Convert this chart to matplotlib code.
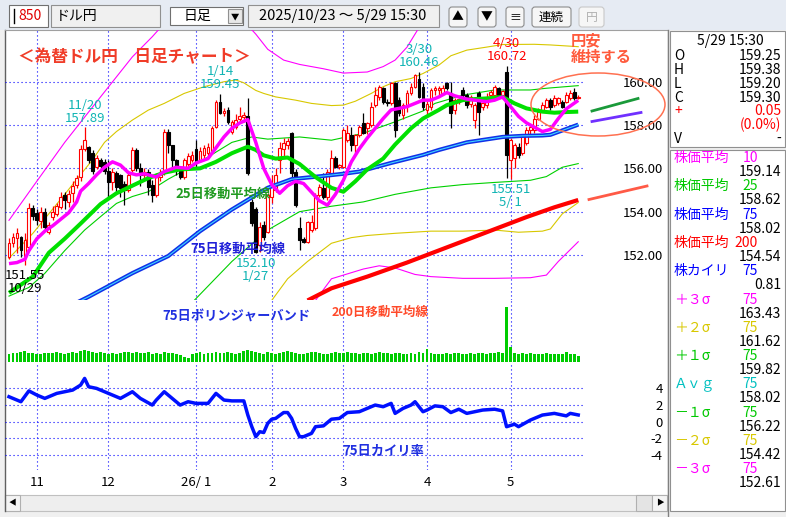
import numpy as np
import pandas as pd
import matplotlib
matplotlib.use("Agg")
import matplotlib.pyplot as plt
from matplotlib.patches import Rectangle, Ellipse, FancyBboxPatch

plt.rcParams["font.family"] = ["Noto Sans CJK JP", "DejaVu Sans"]

# ---------------- data ----------------
# daily bars, Japanese market holidays are skipped by the chart tool
jp_holidays = ["2025-11-03", "2025-11-24", "2025-12-31", "2026-01-01", "2026-01-02",
               "2026-01-12", "2026-02-11", "2026-02-23", "2026-03-20", "2026-04-29",
               "2026-05-04", "2026-05-05", "2026-05-06"]
dates = pd.bdate_range("2025-10-23", "2026-05-29")
dates = dates[~dates.isin(pd.to_datetime(jp_holidays))]

opens = [151.92, 152.54, 152.80, 152.85, 151.92, 152.38, 154.15, 153.95, 153.55, 154.00,
         153.05, 153.75, 153.90, 154.20, 154.75, 154.45, 154.85, 155.25, 155.60, 156.88,
         157.00, 156.70, 156.08, 156.40, 156.30, 155.90, 155.38, 155.80, 155.70, 155.30,
         155.00, 155.92, 156.85, 156.00, 155.70, 155.85, 155.23, 154.77, 155.60, 155.77,
         157.70, 157.08, 156.38, 156.00, 155.62, 156.20, 156.40, 156.90, 156.40, 156.60,
         156.70, 156.77, 157.92, 159.08, 158.55, 158.70, 157.70, 157.92, 158.30, 158.35,
         158.40, 154.46, 154.10, 152.46, 153.38, 153.08, 154.70, 155.00, 156.38, 156.90,
         157.10, 157.62, 155.85, 153.23, 152.75, 152.62, 153.15, 153.23, 154.77, 155.10,
         154.70, 155.77, 156.46, 156.08, 156.08, 157.30, 157.55, 157.08, 157.55, 158.08,
         157.85, 158.00, 158.92, 159.30, 159.70, 159.08, 159.00, 159.92, 159.15, 158.46,
         158.92, 159.46, 159.77, 160.15, 159.77, 158.70, 158.85, 159.62, 159.60, 159.46,
         159.92, 159.46, 158.70, 159.05, 159.60, 159.38, 158.95, 158.23, 159.46, 158.85,
         158.92, 159.38, 159.38, 159.70, 159.38, 160.46, 156.38, 156.46, 157.00, 156.70,
         157.15, 157.77, 157.77, 158.30, 158.70, 158.85, 159.15, 158.92, 159.00, 159.08,
         159.08, 159.23, 159.54, 159.25]
highs = [152.77, 153.03, 153.23, 152.88, 153.00, 154.38, 154.30, 154.10, 154.20, 154.15,
         153.50, 154.25, 154.40, 154.90, 154.90, 155.00, 155.40, 155.70, 157.10, 157.89,
         157.05, 156.85, 156.60, 156.50, 156.45, 156.40, 156.00, 155.90, 155.75, 155.40,
         155.90, 157.00, 156.95, 156.25, 156.00, 155.95, 155.45, 155.80, 155.95, 157.80,
         157.80, 157.10, 156.45, 156.10, 156.50, 156.70, 156.80, 157.30, 157.00, 157.10,
         157.15, 157.95, 159.15, 159.45, 158.80, 158.85, 158.25, 158.50, 158.85, 158.60,
         159.23, 154.60, 154.20, 153.50, 153.55, 154.85, 155.70, 156.00, 157.20, 157.40,
         157.40, 157.70, 155.95, 153.77, 152.85, 153.55, 153.85, 154.85, 155.30, 155.77,
         155.95, 156.85, 156.55, 156.20, 157.85, 158.00, 157.92, 157.60, 158.00, 158.55,
         158.15, 159.05, 159.77, 159.85, 159.77, 159.20, 160.00, 160.00, 159.30, 159.00,
         159.60, 159.92, 160.38, 160.46, 159.92, 159.10, 159.70, 159.80, 159.80, 159.85,
         160.00, 160.00, 159.25, 159.30, 159.77, 159.46, 159.40, 159.00, 159.55, 159.00,
         159.50, 159.62, 159.85, 159.77, 159.62, 160.72, 157.40, 157.15, 157.15, 157.60,
         157.92, 158.00, 158.46, 158.77, 159.08, 159.23, 159.23, 159.38, 159.30, 159.15,
         159.54, 159.62, 159.70, 159.38]
lows = [151.80, 152.38, 152.08, 151.92, 151.55, 152.30, 153.60, 153.40, 153.25, 153.10,
        152.95, 153.60, 153.80, 154.10, 154.10, 154.20, 154.45, 155.10, 155.40, 156.80,
        156.25, 155.75, 155.95, 155.90, 155.75, 154.70, 155.00, 154.85, 154.70, 154.30,
        154.90, 155.85, 155.90, 155.20, 155.45, 154.77, 154.46, 154.70, 155.40, 155.70,
        156.70, 155.90, 155.70, 155.50, 155.50, 156.00, 156.30, 156.08, 156.30, 156.50,
        156.55, 156.70, 157.85, 158.50, 158.40, 158.05, 157.60, 157.80, 158.20, 158.15,
        155.70, 153.35, 152.10, 152.15, 152.70, 153.00, 154.40, 154.90, 155.77, 156.50,
        156.90, 155.60, 154.23, 152.23, 152.55, 152.55, 153.08, 153.15, 154.70, 154.60,
        154.55, 155.70, 156.00, 155.95, 156.00, 157.20, 156.80, 156.70, 157.45, 157.60,
        157.60, 157.90, 158.85, 159.15, 158.95, 158.90, 158.92, 157.46, 158.40, 158.30,
        158.60, 159.38, 159.70, 159.23, 158.70, 158.50, 158.70, 159.40, 159.40, 159.40,
        159.60, 157.85, 158.50, 158.95, 159.30, 158.77, 158.85, 157.85, 157.54, 158.70,
        158.77, 159.30, 159.30, 159.23, 159.30, 155.54, 155.51, 156.00, 156.50, 156.60,
        157.10, 157.50, 157.62, 158.23, 158.62, 158.77, 158.70, 158.85, 158.92, 158.80,
        159.00, 159.15, 159.15, 159.20]
closes = [152.57, 152.85, 153.00, 152.23, 152.70, 154.15, 153.80, 153.60, 154.00, 153.30,
          153.40, 154.00, 154.25, 154.70, 154.55, 154.80, 155.20, 155.55, 156.90, 157.30,
          156.38, 155.90, 156.46, 156.10, 155.90, 155.38, 155.85, 155.15, 155.10, 155.00,
          155.70, 156.85, 156.00, 155.70, 155.85, 155.15, 154.77, 155.60, 155.80, 157.70,
          157.08, 156.38, 155.95, 155.62, 156.40, 156.55, 156.60, 156.30, 156.80, 156.95,
          157.00, 157.85, 159.08, 158.54, 158.65, 158.15, 158.15, 158.25, 158.40, 158.45,
          155.77, 153.46, 152.15, 153.30, 152.85, 154.77, 155.30, 155.70, 156.92, 157.15,
          157.25, 155.77, 154.30, 152.70, 152.62, 153.50, 153.50, 154.77, 155.15, 154.70,
          155.85, 156.46, 156.08, 156.15, 157.77, 157.62, 157.08, 157.55, 157.92, 157.62,
          158.08, 158.85, 159.38, 159.77, 159.08, 159.00, 159.92, 157.77, 158.55, 158.92,
          159.46, 159.77, 160.30, 159.30, 158.85, 158.95, 159.62, 159.70, 159.70, 159.70,
          159.70, 158.54, 159.15, 159.20, 159.38, 158.92, 159.30, 158.92, 158.62, 159.00,
          159.30, 159.54, 159.77, 159.38, 159.55, 156.62, 157.30, 157.08, 156.62, 157.54,
          157.77, 157.92, 158.30, 158.62, 158.92, 159.15, 158.85, 159.23, 159.23, 158.85,
          159.38, 159.46, 159.23, 159.30]
volumes = [8, 9, 9, 10, 11, 9, 9, 8, 8, 9,
           9, 9, 10, 9, 8, 9, 10, 9, 11, 12,
           11, 10, 9, 10, 9, 8, 9, 8, 9, 10,
           10, 9, 10, 9, 9, 10, 8, 9, 8, 10,
           9, 9, 8, 7, 5, 4, 8, 9, 10, 8,
           9, 9, 10, 9, 9, 10, 9, 8, 9, 11,
           12, 11, 10, 9, 8, 10, 9, 8, 9, 10,
           11, 10, 9, 8, 8, 9, 10, 10, 9, 8,
           8, 9, 10, 9, 9, 10, 9, 9, 8, 9,
           9, 8, 9, 10, 9, 9, 8, 9, 9, 8,
           8, 9, 8, 10, 9, 13, 9, 8, 8, 8,
           9, 8, 9, 9, 8, 8, 9, 8, 9, 9,
           8, 9, 9, 10, 9, 55, 15, 9, 8, 9,
           8, 9, 8, 8, 8, 9, 8, 8, 8, 8,
           10, 8, 8, 6]

# indicator lines (bar number, value)
ma10_i = [0, 2, 4, 5, 7, 9, 11, 13, 15, 17, 18, 20, 22, 24, 26, 28, 30, 32, 34, 37, 39, 42, 45, 47,
          50, 52, 54, 56, 58, 60, 62, 64, 66, 68, 70, 72, 74, 76, 78, 80, 82, 84, 86, 88, 90, 92,
          94, 96, 98, 100, 102, 104, 106, 108, 110, 112, 115, 117, 120, 122, 124, 126, 128, 130,
          132, 134, 136, 138, 140, 143]
ma10_v = [151.6, 151.65, 151.8, 152.2, 152.75, 153.1, 153.35, 153.65, 153.95, 154.45, 154.95,
          155.3, 155.7, 156.05, 156.3, 156.15, 155.8, 155.7, 155.75, 155.6, 155.85, 156.05,
          156.0, 156.25, 156.45, 156.95, 157.45, 157.85, 158.1, 158.25, 157.2, 156.0, 155.25,
          154.85, 155.2, 155.4, 155.3, 154.9, 154.5, 154.3, 154.8, 155.45, 156.3, 156.9, 157.4,
          157.85, 158.3, 158.7, 158.77, 158.85, 159.0, 159.15, 159.15, 159.3, 159.5, 159.35,
          159.2, 159.15, 159.08, 159.15, 159.3, 158.85, 158.4, 158.1, 157.9, 157.7, 157.8,
          158.3, 158.75, 159.14]
ma25_i = [0, 6, 10, 14, 18, 23, 27, 31, 35, 39, 43, 48, 52, 56, 60, 62, 64, 67, 70, 73, 77, 81,
          84, 87, 90, 94, 97, 101, 104, 108, 110, 114, 117, 120, 124, 127, 130, 134, 137, 140, 143]
ma25_v = [150.25, 151.0, 152.1, 152.75, 153.45, 154.35, 154.85, 155.2, 155.55, 155.8, 155.95,
          156.0, 156.3, 156.7, 157.0, 156.85, 156.6, 156.45, 156.5, 156.2, 155.6, 155.1, 154.92,
          155.4, 155.95, 156.45, 157.1, 157.85, 158.3, 158.7, 158.92, 159.15, 159.2, 159.23,
          159.3, 159.0, 158.77, 158.62, 158.57, 158.6, 158.62]
ma75_i = [0, 10, 20, 31, 40, 48, 56, 65, 71, 79, 84, 88, 96, 104, 108, 115, 124, 129, 134, 136, 139, 143]
ma75_v = [148.3, 149.15, 150.07, 151.16, 151.95, 153.1, 154.1, 155.1, 155.5, 155.65, 155.75,
          155.85, 156.25, 156.62, 156.85, 157.2, 157.45, 157.5, 157.52, 157.55, 157.75, 158.02]
ma200_i = [75, 81, 90, 100, 110, 120, 130, 137, 143]
ma200_v = [149.9, 150.46, 151.0, 151.65, 152.35, 153.05, 153.75, 154.2, 154.54]

bb_p3_i = [0, 6, 14, 23, 31, 36, 40, 58, 62, 65, 69, 73, 79, 84, 90, 94, 97, 100, 103, 143]
bb_p3_v = [153.6, 155.15, 157.2, 159.3, 161.15, 162.08, 162.9, 163.0, 162.2, 161.5, 161.0,
           160.8, 160.6, 160.4, 160.45, 160.7, 161.0, 161.6, 162.5, 163.43]
bb_p2_i = [0, 6, 14, 21, 24, 27, 31, 35, 39, 44, 49, 54, 57, 59, 62, 64, 67, 72, 76, 81, 84, 87,
           91, 94, 97, 101, 104, 108, 111, 115, 120, 124, 132, 136, 143]
bb_p2_v = [151.85, 153.0, 154.8, 156.4, 157.2, 157.7, 158.23, 158.69, 159.0, 159.46, 159.77,
           160.0, 160.08, 159.95, 159.6, 159.46, 159.3, 159.15, 159.0, 158.9, 158.92, 159.1,
           159.46, 159.77, 160.0, 160.15, 160.38, 160.77, 161.2, 161.46, 161.6, 161.72, 161.73,
           161.7, 161.62]
bb_p1_i = [0, 5, 9, 14, 19, 23, 27, 31, 35, 40, 48, 56, 61, 65, 73, 81, 89, 97, 104, 107, 114,
           122, 131, 135, 143]
bb_p1_v = [150.1, 150.5, 151.15, 152.2, 153.15, 153.77, 154.38, 154.7, 154.92, 155.5, 156.3,
           157.2, 157.45, 157.35, 157.45, 157.3, 157.62, 158.15, 158.65, 159.0, 159.38, 159.62,
           159.62, 159.7, 159.82]
bb_m1_i = [46, 56, 65, 73, 81, 89, 97, 106, 114, 122, 131, 135, 139, 143]
bb_m1_v = [149.8, 151.7, 153.15, 154.0, 154.25, 154.45, 154.8, 155.1, 155.25, 155.35, 155.45,
           155.62, 156.05, 156.22]
bb_m2_i = [66, 70, 75, 81, 86, 90, 97, 106, 114, 122, 128, 134, 136, 139, 143]
bb_m2_v = [149.9, 150.9, 151.7, 152.54, 152.8, 152.9, 153.0, 153.1, 153.1, 153.15, 153.05,
           153.1, 153.2, 153.9, 154.42]
bb_m3_i = [77, 81, 89, 93, 97, 102, 106, 114, 122, 131, 135, 138, 143]
bb_m3_v = [149.9, 150.9, 151.35, 151.5, 151.4, 151.1, 151.0, 150.92, 150.92, 150.95, 151.07,
           151.7, 152.61]

kairi_i = [0, 3, 5, 7, 9, 12, 14, 16, 18, 19, 20, 22, 25, 28, 31, 33, 36, 37, 39, 41, 43, 45, 47,
           50, 52, 54, 56, 59, 60, 61, 62, 63, 64, 65, 66, 67, 69, 70, 71, 72, 73, 74, 76, 77,
           79, 81, 83, 85, 88, 90, 92, 94, 96, 97, 99, 101, 102, 104, 105, 107, 109, 111, 113,
           115, 117, 119, 122, 124, 125, 127, 128, 131, 134, 137, 140, 141, 143]
kairi_v = [3.0, 2.4, 3.7, 3.2, 2.8, 3.4, 3.6, 3.8, 4.4, 5.2, 4.2, 4.0, 3.4, 2.8, 3.6, 2.8, 2.0,
           2.6, 3.6, 2.8, 2.0, 2.4, 2.2, 2.2, 3.4, 2.6, 2.5, 2.5, 0.8, -0.6, -1.8, -1.2, -1.3,
           -0.2, 0.3, 0.4, 1.1, 1.1, 0.4, -0.8, -1.8, -1.8, -1.4, -0.6, -0.5, 0.3, 0.4, 1.1,
           1.2, 1.6, 2.0, 1.8, 2.2, 1.0, 1.6, 2.0, 2.4, 1.2, 1.4, 1.9, 1.8, 1.1, 1.5, 1.0, 1.2,
           1.4, 1.5, 1.3, -0.6, -0.3, -0.6, 0.2, 0.8, 1.0, 0.7, 1.0, 0.81]

price_ticks = [152, 154, 156, 158, 160]
kairi_ticks = [4, 2, 0, -2, -4]

# right-hand info panel
ohlc_names = ["O", "H", "L", "C"]
ohlc_vals = ["159.25", "159.38", "159.20", "159.30"]
ind_names = ["株価平均", "株価平均", "株価平均", "株価平均", "株カイリ", "＋３σ", "＋２σ",
             "＋１σ", "Ａｖｇ", "－１σ", "－２σ", "－３σ"]
ind_periods = ["10", "25", "75", "200", "75", "75", "75", "75", "75", "75", "75", "75"]
ind_values = ["159.14", "158.62", "158.02", "154.54", "0.81", "163.43", "161.62", "159.82",
              "158.02", "156.22", "154.42", "152.61"]
ind_colors = ["#ff00ff", "#00c800", "#0000ff", "#ff0000", "#0000ff", "#ff00ff", "#d8c800",
              "#00c800", "#00c0c0", "#00c800", "#d8c800", "#ff00ff"]

# ---------------- figure ----------------
W, H = 786, 517
fig = plt.figure(figsize=(W / 100, H / 100), dpi=100)
fig.patch.set_facecolor("#f0f0f0")


def px_axes(x0, y0, x1, y1):
    return fig.add_axes([x0 / W, 1 - y1 / H, (x1 - x0) / W, (y1 - y0) / H])


bg = px_axes(0, 0, W, H)
bg.set_xlim(0, W)
bg.set_ylim(H, 0)
bg.axis("off")


def box(a, x0, y0, x1, y1, fc, ec="#a0a0a0", lw=0.8, z=1):
    a.add_patch(Rectangle((x0, y0), x1 - x0, y1 - y0, facecolor=fc, edgecolor=ec, lw=lw, zorder=z))


# toolbar
box(bg, 0, 0, W, 30, "#e6ebf3", ec="none")
box(bg, 9, 5, 48, 27, "white", ec="#707070")
bg.plot([14, 14], [9, 23], color="black", lw=1)
bg.text(18, 16, "850", color="#e00000", fontsize=10, va="center")
box(bg, 51, 5, 160, 27, "#f0f0f0", ec="#909090")
bg.text(56, 16, "ドル円", fontsize=10, va="center")
box(bg, 170, 7, 243, 25, "white", ec="#707070")
bg.text(184, 16, "日足", fontsize=10, va="center")
box(bg, 228, 9, 242, 23, "#e8e8e8", ec="#909090")
bg.text(235, 16.5, "▼", fontsize=6, ha="center", va="center")
box(bg, 248, 5, 439, 27, "#f0f0f0", ec="#909090")
bg.text(259, 16, "2025/10/23 ～ 5/29 15:30", fontsize=10.5, va="center")
for (x0, x1, s, c) in [(449, 467, "▲", "black"), (478, 496, "▼", "black"), (506, 524, "≡", "black"),
                       (532, 571, "連続", "black"), (579, 604, "円", "#b0b0b0")]:
    bg.add_patch(FancyBboxPatch((x0, 7), x1 - x0, 20, boxstyle="round,pad=0,rounding_size=3",
                                facecolor="#f6f6f6", edgecolor="#8c8c8c" if c == "black" else "#c8c8c8", lw=0.8))
    bg.text((x0 + x1) / 2, 17, s, fontsize=9 if len(s) > 1 else 8.5, ha="center", va="center", color=c)

# chart area + scrollbar
box(bg, 5, 30, 667, 495, "white", ec="none")
bg.plot([4.5, 4.5], [30, 511], color="#606060", lw=1)
bg.plot([4.5, 667], [30, 30], color="#a0a0a0", lw=0.8)
box(bg, 5, 495, 667, 511, "#eeeeee", ec="#c0c0c0")
box(bg, 5, 495, 20, 511, "#f4f4f4", ec="#b0b0b0")
box(bg, 636, 495, 652, 511, "#e4e4e4", ec="#b0b0b0")
box(bg, 652, 495, 667, 511, "#f4f4f4", ec="#b0b0b0")
bg.text(12.5, 503, "◀", fontsize=5.5, ha="center", va="center")
bg.text(659.5, 503, "▶", fontsize=5.5, ha="center", va="center")

# right panel
bg.plot([668, 668], [30, 517], color="#808080", lw=1)
box(bg, 670, 31, 785, 147, "white", ec="#909090")
box(bg, 670, 150, 785, 511, "white", ec="#909090")
bg.text(730, 41.5, "5/29 15:30", fontsize=10, ha="center", va="center")
for k, (nm, v) in enumerate(zip(ohlc_names, ohlc_vals)):
    yy = 55.5 + k * 14.2
    bg.text(674, yy, nm, fontsize=10, va="center")
    bg.text(781, yy, v, fontsize=10, va="center", ha="right")
bg.text(674, 111, "+", fontsize=10, va="center", color="#ff0000")
bg.text(781, 111, "0.05", fontsize=10, va="center", ha="right", color="#ff0000")
bg.text(781, 125, "(0.0%)", fontsize=10, va="center", ha="right", color="#ff0000")
bg.text(674, 139, "V", fontsize=10, va="center")
bg.text(781, 139, "-", fontsize=10, va="center", ha="right")
for k in range(len(ind_names)):
    yy = 158 + k * 28.3
    bg.text(674, yy, ind_names[k], fontsize=10, va="center", color=ind_colors[k])
    bg.text(758, yy, ind_periods[k], fontsize=10, va="center", ha="right", color=ind_colors[k])
    bg.text(781, yy + 14, ind_values[k], fontsize=10, va="center", ha="right")

# ---------------- data axes ----------------
n = len(dates)
xs = np.arange(n)
o, h, l, c = map(np.array, (opens, highs, lows, closes))
month_idx = [i for i in range(1, n) if dates[i].month != dates[i - 1].month]
month_lbl = [f"{dates[i].year % 100}/{dates[i].month:2d}" if dates[i].month == 1 else str(dates[i].month)
             for i in month_idx]
XL = (-1.0, 165.3)
grid_kw = dict(color="#0000ff", lw=0.8, linestyle=(0, (1, 2.6)))


def data_axes(y0, y1):
    a = px_axes(5, y0, 667, y1)
    a.set_facecolor("none")
    for s in a.spines.values():
        s.set_visible(False)
    a.set_xlim(*XL)
    a.set_xticks(month_idx)
    a.tick_params(axis="x", length=0, labelbottom=False)
    a.grid(axis="x", **grid_kw)
    a.set_axisbelow(True)
    return a


ax = data_axes(30, 300)
ax.set_ylim(149.92, 162.39)
ax.hlines(price_ticks, XL[0], n + 0.6, **grid_kw)
ax.yaxis.tick_right()
ax.set_yticks(price_ticks)
ax.set_yticklabels([f"{v:.2f}" for v in price_ticks])
ax.tick_params(axis="y", length=0, pad=-3, labelsize=9.5)
for t in ax.get_yticklabels():
    t.set_horizontalalignment("right")

# bollinger bands
for ii, vv, col in [(bb_p3_i, bb_p3_v, "#ff00ff"), (bb_p2_i, bb_p2_v, "#d8c800"), (bb_p1_i, bb_p1_v, "#00d000"),
                    (bb_m1_i, bb_m1_v, "#00d000"), (bb_m2_i, bb_m2_v, "#d8c800"), (bb_m3_i, bb_m3_v, "#ff00ff")]:
    ax.plot(ii, vv, color=col, lw=0.8, zorder=2)

# candles
up = c >= o
wick_col = np.where(up, "#ff0000", "#000000")
ax.vlines(xs, l, h, colors=wick_col, lw=0.9, zorder=3)
body_lo = np.minimum(o, c)
body_h = np.maximum(np.abs(c - o), 0.03)
ax.bar(xs[up], body_h[up], bottom=body_lo[up], width=0.7, color="white", edgecolor="#ff0000", lw=0.8, zorder=4)
ax.bar(xs[~up], body_h[~up], bottom=body_lo[~up], width=0.7, color="black", edgecolor="black", lw=0.8, zorder=4)

# moving averages
ax.plot(ma200_i, ma200_v, color="#ff0000", lw=3.0, zorder=5, solid_capstyle="butt")
ax.plot(ma75_i, ma75_v, color="#1030e8", lw=3.0, zorder=5, solid_capstyle="butt")
ax.plot(ma75_i, ma75_v, color="#40d8ff", lw=0.8, zorder=5)
ax.plot(ma25_i, ma25_v, color="#00e000", lw=2.9, zorder=6, solid_capstyle="butt")
ax.plot(ma10_i, ma10_v, color="#ff00ff", lw=2.5, zorder=7, solid_capstyle="butt")


def mark(i, top, color="#10b4b4"):
    d = dates[i]
    lab = f"{d.month}/{d.day:2d}"
    if top:
        ax.annotate(f"{lab}\n{h[i]:.2f}", (i, h[i]), xytext=(0, 2), textcoords="offset points",
                    ha="center", va="bottom", fontsize=9.5, color=color, linespacing=1.0, zorder=8)
    else:
        ax.annotate(f"{l[i]:.2f}\n{lab}", (i, l[i]), xytext=(0, -3), textcoords="offset points",
                    ha="center", va="top", fontsize=9.5, color=color, linespacing=1.0, zorder=8)


mark(int(np.argmax(h[:30])), True)
mark(int(np.argmax(h[:80])), True)
mark(int(np.argmax(h[80:110])) + 80, True)
mark(int(np.argmax(h)), True, "#ff0000")
mark(int(np.argmin(l[40:80])) + 40, False)
mark(int(np.argmin(l[110:])) + 110, False)
mark(int(np.argmin(l[:30])), False, "black")

# volume
axv = data_axes(300, 362)
axv.set_ylim(0, 62)
axv.set_yticks([])
axv.bar(xs, volumes, width=0.72, color="#00cc00", zorder=3)

# kairi
axk = data_axes(362, 470)
axk.set_ylim(-5.8, 7.17)
axk.hlines(kairi_ticks, XL[0], n + 0.6, **grid_kw)
axk.plot(kairi_i, kairi_v, color="#0010ff", lw=2.5, zorder=4)
axk.yaxis.tick_right()
axk.set_yticks(kairi_ticks)
axk.set_yticklabels([str(v) for v in kairi_ticks])
axk.tick_params(axis="y", length=0, pad=-3, labelsize=9.5)
for t in axk.get_yticklabels():
    t.set_horizontalalignment("right")
axk.set_xticks(month_idx)
axk.set_xticklabels(month_lbl)
axk.tick_params(axis="x", length=0, labelbottom=True, pad=4, labelsize=9.5)

# ---------------- chart notes ----------------
ov = px_axes(0, 0, W, H)
ov.set_xlim(0, W)
ov.set_ylim(H, 0)
ov.axis("off")
ov.text(18, 57, "＜為替ドル円　日足チャート＞", fontsize=12, fontweight="bold", color="#f03c28", va="center")
ov.text(223, 194, "25日移動平均線", fontsize=9.5, fontweight="bold", color="#209a20", ha="center", va="center")
ov.text(238, 249, "75日移動平均線", fontsize=9.5, fontweight="bold", color="#2020d8", ha="center", va="center")
ov.text(236, 316.5, "75日ボリンジャーバンド", fontsize=9.5, fontweight="bold", color="#2030e0", ha="center", va="center")
ov.text(380, 312, "200日移動平均線", fontsize=9, fontweight="bold", color="#ff4a2a", ha="center", va="center")
ov.text(383, 451, "75日カイリ率", fontsize=9.5, fontweight="bold", color="#2030e0", ha="center", va="center")
ov.text(571, 48.5, "円安\n維持する", fontsize=11, fontweight="bold", color="#ff5a3c", va="center", linespacing=1.0)
ov.add_patch(Ellipse((598, 104.5), 134, 63, fill=False, edgecolor="#ff7050", lw=1.1))
ov.plot([592, 638], [111, 98.5], color="#1a9a3a", lw=2)
ov.plot([592, 641], [121.5, 112.5], color="#7030ff", lw=2)
ov.plot([589, 647], [199.5, 186], color="#ff5a46", lw=2)

fig.savefig("out.png", dpi=100)
